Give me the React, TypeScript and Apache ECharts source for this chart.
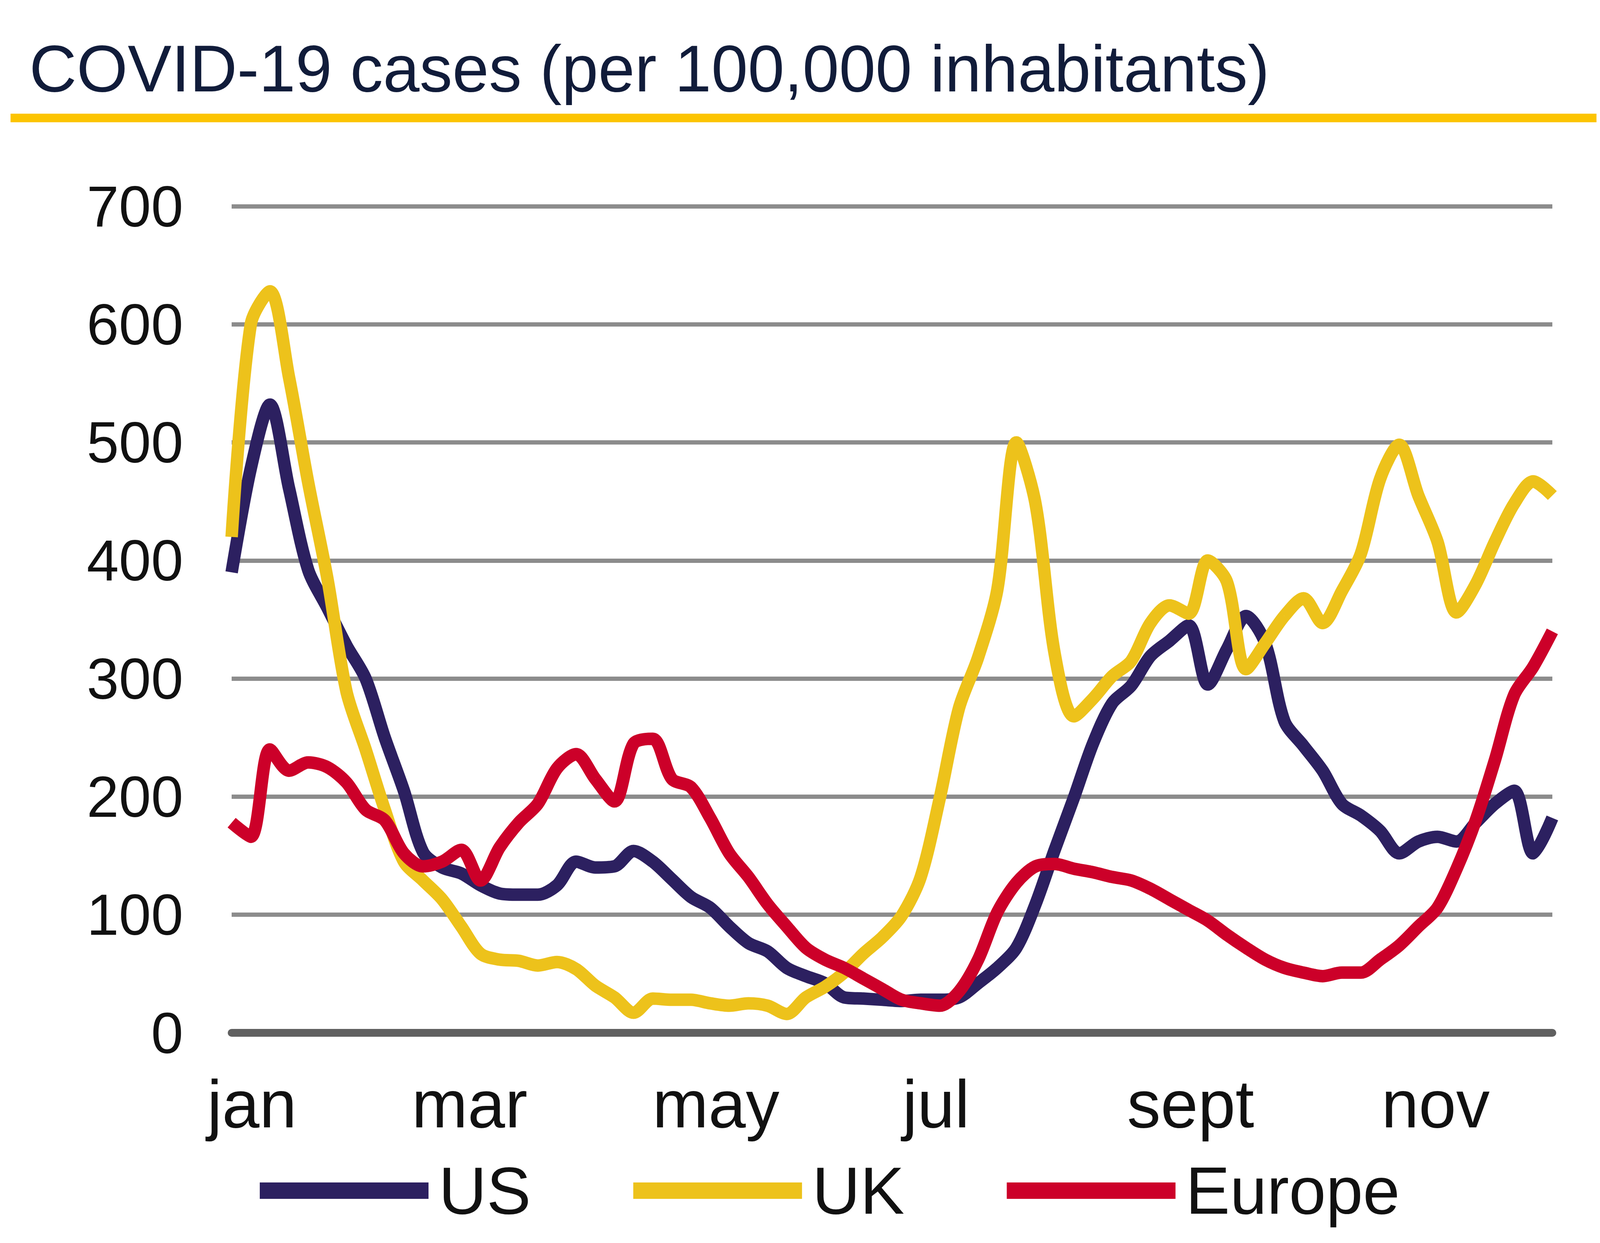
import React, { useEffect, useRef } from "react";
import * as echarts from "echarts";

const titleText = "COVID-19 cases (per 100,000 inhabitants)";
const seriesNames = ["US", "UK", "Europe"];
const monthLabels = ["jan", "mar", "may", "jul", "sept", "nov"];
// label positions expressed in sample-index units of the x axis
const monthTickPos = [1.06, 12.43, 25.3, 36.8, 50.1, 62.9];

const usValues = [
  390, 478, 532, 461, 392, 360, 328, 300, 250, 205,
  153, 140, 135, 125, 118, 117, 117, 125, 145, 140,
  141, 154, 145, 130, 115, 106, 90, 76, 69, 55,
  48, 42, 30, 29, 28, 27, 28, 28, 30, 42,
  55, 72, 109, 155, 199, 245, 279, 294, 319, 332,
  345, 295, 325, 353, 330, 264, 243, 222, 194, 184,
  171, 152, 162, 166, 162, 178, 194, 205, 152, 182,
];

const ukValues = [
  420, 600, 628, 555, 466, 385, 289, 240, 189, 145,
  129, 113, 90, 67, 62, 61, 57, 60, 54, 40,
  30, 17, 29, 28, 28, 25, 23, 25, 23, 16,
  30, 39, 51, 67, 81, 99, 132, 199, 275, 318,
  375, 500, 448, 321, 268, 283, 302, 315, 347, 362,
  355, 400, 382, 308, 330, 353, 368, 347, 374, 406,
  469, 498, 455, 416, 356, 380, 416, 448, 467, 455,
];

const europeValues = [
  178, 166, 240, 222, 229, 225, 212, 189, 180, 152,
  141, 145, 155, 129, 157, 178, 194, 224, 236, 215,
  196, 245, 249, 215, 208, 182, 152, 132, 109, 90,
  72, 62, 55, 46, 37, 28, 25, 23, 35, 62,
  102, 127, 141, 143, 139, 136, 132, 129, 122, 113,
  104, 95, 83, 72, 62, 55, 51, 48, 51, 51,
  62, 74, 90, 106, 139, 180, 231, 286, 310, 340,
];

const seriesValues = [usValues, ukValues, europeValues];
const seriesColors = ["#2c2060", "#edc21b", "#cc0029"];

const FONT = "'Liberation Sans', Arial, sans-serif";

export default function App() {
  const ref = useRef<HTMLDivElement>(null);

  useEffect(() => {
    document.body.style.margin = "0";
    if (!ref.current) return;
    const chart = echarts.init(ref.current, null, { renderer: "svg" });
    const option: any = {
      animation: false,
      backgroundColor: "#ffffff",
      graphic: [
        {
          type: "text",
          left: 75,
          top: 92,
          style: {
            text: titleText,
            font: `168px ${FONT}`,
            fill: "#111c3a",
          },
        },
        {
          type: "rect",
          shape: { x: 27, y: 291, width: 4060, height: 22 },
          style: { fill: "#fcc400" },
        },
      ],
      grid: { left: 593, right: 250, top: 528, bottom: 538, containLabel: false },
      legend: {
        data: seriesNames,
        left: 660,
        top: 2958,
        icon: "rect",
        itemWidth: 432,
        itemHeight: 42,
        itemGap: 262,
        textStyle: {
          fontSize: 170,
          fontFamily: FONT,
          color: "#111111",
          padding: [0, 0, 0, 21],
        },
      },
      xAxis: {
        type: "value",
        min: 0,
        max: usValues.length - 1,
        axisLine: { show: true, lineStyle: { color: "#606060", width: 20 } },
        axisTick: { show: false },
        splitLine: { show: false },
        axisLabel: {
          customValues: monthTickPos,
          formatter: (v: number) => {
            const k = monthTickPos.findIndex((p) => Math.abs(p - v) < 1e-6);
            return k >= 0 ? monthLabels[k] : "";
          },
          fontSize: 172,
          fontFamily: FONT,
          color: "#111111",
          margin: 96,
        },
      },
      yAxis: {
        type: "value",
        min: 0,
        max: 700,
        interval: 100,
        axisLine: { show: false },
        axisTick: { show: false },
        splitLine: { lineStyle: { color: "#8c8c8c", width: 11 } },
        axisLabel: {
          fontSize: 148,
          fontFamily: FONT,
          color: "#111111",
          margin: 124,
        },
      },
      series: seriesNames.map((name, s) => ({
        name,
        type: "line",
        data: seriesValues[s].map((v, i) => [i, v]),
        showSymbol: false,
        symbol: "none",
        smooth: 0.3,
        color: seriesColors[s],
        lineStyle: { color: seriesColors[s], width: 32 },
      })),
    };
    chart.setOption(option);
    return () => chart.dispose();
  }, []);

  return <div ref={ref} style={{ width: 4224, height: 3182 }} />;
}
